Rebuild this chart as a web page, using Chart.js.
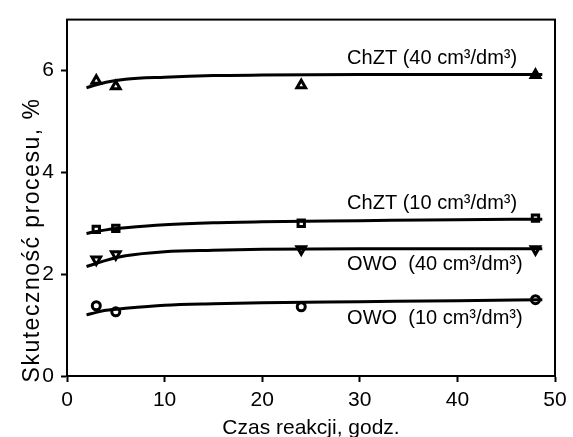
<!DOCTYPE html>
<html>
<head>
<meta charset="utf-8">
<script src="https://cdn.jsdelivr.net/npm/chart.js@4/dist/chart.umd.min.js"></script>
<style>
  html, body { margin: 0; padding: 0; background: #fff; }
  canvas { display: block; }
</style>
</head>
<body>
<canvas id="chart" width="573" height="437"></canvas>
<script>
// ── Data ────────────────────────────────────────────────────────────
const sampleX = [3, 5, 24, 48];
const chzt40 = [5.80, 5.69, 5.71, 5.91];
const chzt10 = [2.88, 2.90, 3.00, 3.10];
const owo40  = [2.29, 2.39, 2.49, 2.49];
const owo10  = [1.38, 1.26, 1.36, 1.50];

// fitted curves, sampled along the drawn lines
const curveX      = [2, 3, 4, 6, 10, 15, 20, 30, 40, 48.7];
const chzt40Curve = [5.66, 5.72, 5.77, 5.83, 5.87, 5.90, 5.91, 5.92, 5.92, 5.92];
const chzt10Curve = [2.80, 2.84, 2.87, 2.91, 2.97, 3.01, 3.03, 3.05, 3.07, 3.08];
const owo40Curve  = [2.15, 2.21, 2.27, 2.36, 2.44, 2.47, 2.49, 2.50, 2.50, 2.50];
const owo10Curve  = [1.20, 1.25, 1.29, 1.33, 1.39, 1.42, 1.44, 1.46, 1.48, 1.50];

const seriesLabels = [
  'ChZT (40 cm³/dm³)',
  'ChZT (10 cm³/dm³)',
  'OWO  (40 cm³/dm³)',
  'OWO  (10 cm³/dm³)',
];
const xTicks = [0, 10, 20, 30, 40, 50];
const yTicks = [0, 2, 4, 6];
const xTitle = 'Czas reakcji, godz.';
const yTitle = 'Skuteczność procesu, %';

// ── Styling ─────────────────────────────────────────────────────────
const FONT = "'Liberation Sans', Arial, sans-serif";
const INK = '#000';

// where each series label sits, in data units (left edge, vertical middle)
const labelAnchors = [
  { x: 28.7, y: 6.23 },
  { x: 28.7, y: 3.38 },
  { x: 28.7, y: 2.19 },
  { x: 28.7, y: 1.13 },
];

const pts = (xs, ys) => xs.map((x, i) => ({ x, y: ys[i] }));

function curve(data) {
  return {
    type: 'line',
    data: pts(curveX, data),
    borderColor: INK,
    borderWidth: 3,
    pointRadius: 0,
    cubicInterpolationMode: 'monotone',
    fill: false,
  };
}

function markers(data, style, rotation = 0, radius = 5) {
  return {
    type: 'line',
    data: pts(sampleX, data),
    showLine: false,
    pointStyle: style,
    pointRotation: rotation,
    pointRadius: radius,
    pointBorderWidth: 3,
    pointBorderColor: INK,
    pointBackgroundColor: '#fff',
  };
}

// ── Plugins ─────────────────────────────────────────────────────────
const framePlugin = {
  id: 'frame',
  afterDatasetsDraw(chart) {
    const { ctx, chartArea: a, scales } = chart;
    ctx.save();
    ctx.strokeStyle = INK;
    ctx.lineWidth = 2;
    ctx.strokeRect(a.left, a.top, a.right - a.left, a.bottom - a.top);

    // series labels
    ctx.fillStyle = INK;
    ctx.font = `20px ${FONT}`;
    ctx.textAlign = 'left';
    ctx.textBaseline = 'middle';
    seriesLabels.forEach((t, i) => {
      const p = labelAnchors[i];
      ctx.fillText(t, scales.x.getPixelForValue(p.x), scales.y.getPixelForValue(p.y));
    });

    // axis titles
    ctx.font = `21px ${FONT}`;
    ctx.textAlign = 'center';
    ctx.fillText(xTitle, (a.left + a.right) / 2, 428);
    ctx.font = `23px ${FONT}`;
    ctx.translate(33, 240);
    ctx.rotate(-Math.PI / 2);
    ctx.letterSpacing = '1.5px';
    ctx.fillText(yTitle, 0, 0);
    ctx.restore();
  },
};

// ── Chart ───────────────────────────────────────────────────────────
new Chart(document.getElementById('chart').getContext('2d'), {
  data: {
    datasets: [
      curve(chzt40Curve),
      curve(chzt10Curve),
      curve(owo40Curve),
      curve(owo10Curve),
      markers(chzt40, 'triangle'),
      markers(chzt10, 'rect', 0, 4.5),
      markers(owo40, 'triangle', 180),
      markers(owo10, 'circle', 0, 4),
    ],
  },
  options: {
    responsive: false,
    animation: false,
    devicePixelRatio: 1,
    layout: { padding: { top: 15, right: 18, left: 0, bottom: 0 } },
    plugins: { legend: { display: false }, tooltip: { enabled: false } },
    scales: {
      x: {
        type: 'linear',
        min: 0,
        max: 50,
        afterBuildTicks: (s) => { s.ticks = xTicks.map(v => ({ value: v })); },
        afterFit: (s) => { s.height = 61; },
        grid: { drawOnChartArea: false, tickLength: 6, tickColor: INK, tickWidth: 2 },
        border: { color: INK, width: 2 },
        ticks: { color: INK, font: { family: FONT, size: 21 }, padding: 6, maxRotation: 0 },
      },
      y: {
        type: 'linear',
        min: 0,
        max: 7,
        afterBuildTicks: (s) => { s.ticks = yTicks.map(v => ({ value: v })); },
        afterFit: (s) => { s.width = 67; },
        grid: { drawOnChartArea: false, tickLength: 6, tickColor: INK, tickWidth: 2 },
        border: { color: INK, width: 2 },
        ticks: { color: INK, font: { family: FONT, size: 21 }, padding: 7 },
      },
    },
  },
  plugins: [framePlugin],
});
</script>
</body>
</html>
